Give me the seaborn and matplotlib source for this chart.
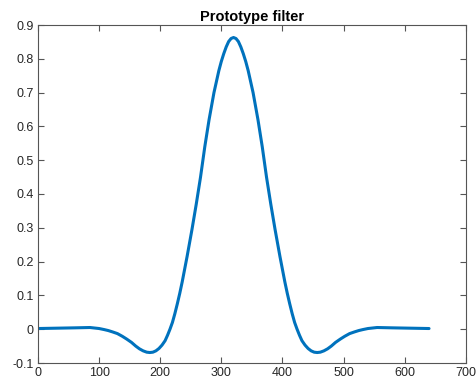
import matplotlib
matplotlib.use("Agg")
import matplotlib.pyplot as plt
import seaborn as sns
import pandas as pd

# Sample index and prototype filter value
sample = [0, 30, 60, 85, 100, 108, 115, 122, 130, 138, 145, 153, 160, 166, 172,
          178, 183, 188, 193, 198, 203, 208, 212, 216, 220, 224, 228, 232, 236,
          244, 252, 259, 266, 273, 280, 288, 296, 300, 304, 308, 312, 316, 320,
          324, 328, 332, 336, 340, 344, 352, 360, 367, 374, 381, 388, 396, 404,
          408, 412, 416, 420, 424, 428, 432, 437, 442, 447, 452, 457, 462, 468,
          474, 480, 487, 495, 502, 510, 518, 525, 532, 540, 555, 580, 610, 640]
value = [0.002, 0.003, 0.004, 0.005, 0.002, -0.001, -0.004, -0.008, -0.013, -0.021,
         -0.029, -0.039, -0.050, -0.058, -0.064, -0.068, -0.069, -0.068, -0.064,
         -0.057, -0.047, -0.034, -0.018, 0.000, 0.020, 0.046, 0.075, 0.106, 0.140,
         0.215, 0.295, 0.370, 0.450, 0.540, 0.620, 0.700, 0.765, 0.792, 0.815,
         0.835, 0.851, 0.860, 0.863,
         0.860, 0.851, 0.835, 0.815, 0.792, 0.765, 0.700, 0.620, 0.540, 0.450,
         0.370, 0.295, 0.215, 0.140, 0.106, 0.075, 0.046, 0.020, 0.000, -0.018,
         -0.034, -0.047, -0.057, -0.064, -0.068, -0.069, -0.068, -0.064, -0.058,
         -0.050, -0.039, -0.029, -0.021, -0.013, -0.008, -0.004, -0.001, 0.002,
         0.005, 0.004, 0.003, 0.002]

x_ticks = [0, 100, 200, 300, 400, 500, 600, 700]
y_ticks = [-0.1, 0, 0.1, 0.2, 0.3, 0.4, 0.5, 0.6, 0.7, 0.8, 0.9]
y_tick_labels = ["-0.1", "0", "0.1", "0.2", "0.3", "0.4", "0.5", "0.6", "0.7", "0.8", "0.9"]
title = "Prototype filter"

df = pd.DataFrame({"n": sample, "h": value})

sns.set_style("ticks")
plt.rcParams['font.family'] = ['Liberation Sans', 'DejaVu Sans']

fig = plt.figure(figsize=(4.77, 3.86), dpi=100)
ax = fig.add_axes([38/477, 1 - 363/386, (465.7 - 38)/477, (363 - 25)/386])

sns.lineplot(data=df, x="n", y="h", ax=ax, color="#0072BD", linewidth=2.2, sort=True)

ax.set_xlim(0, 700)
ax.set_ylim(-0.1, 0.9)
ax.set_xticks(x_ticks)
ax.set_yticks(y_ticks)
ax.set_xticklabels([str(t) for t in x_ticks])
ax.set_yticklabels(y_tick_labels)
ax.set_xlabel("")
ax.set_ylabel("")
ax.set_title(title, fontsize=10.5, fontweight="bold", color="#000000", pad=3)

for s in ax.spines.values():
    s.set_visible(True)
    s.set_color("#555555")
    s.set_linewidth(0.8)
ax.tick_params(direction="in", length=4, width=0.8, color="#555555",
               labelsize=9, labelcolor="#262626", top=True, right=True, pad=3)

fig.savefig("out.png", dpi=100)
